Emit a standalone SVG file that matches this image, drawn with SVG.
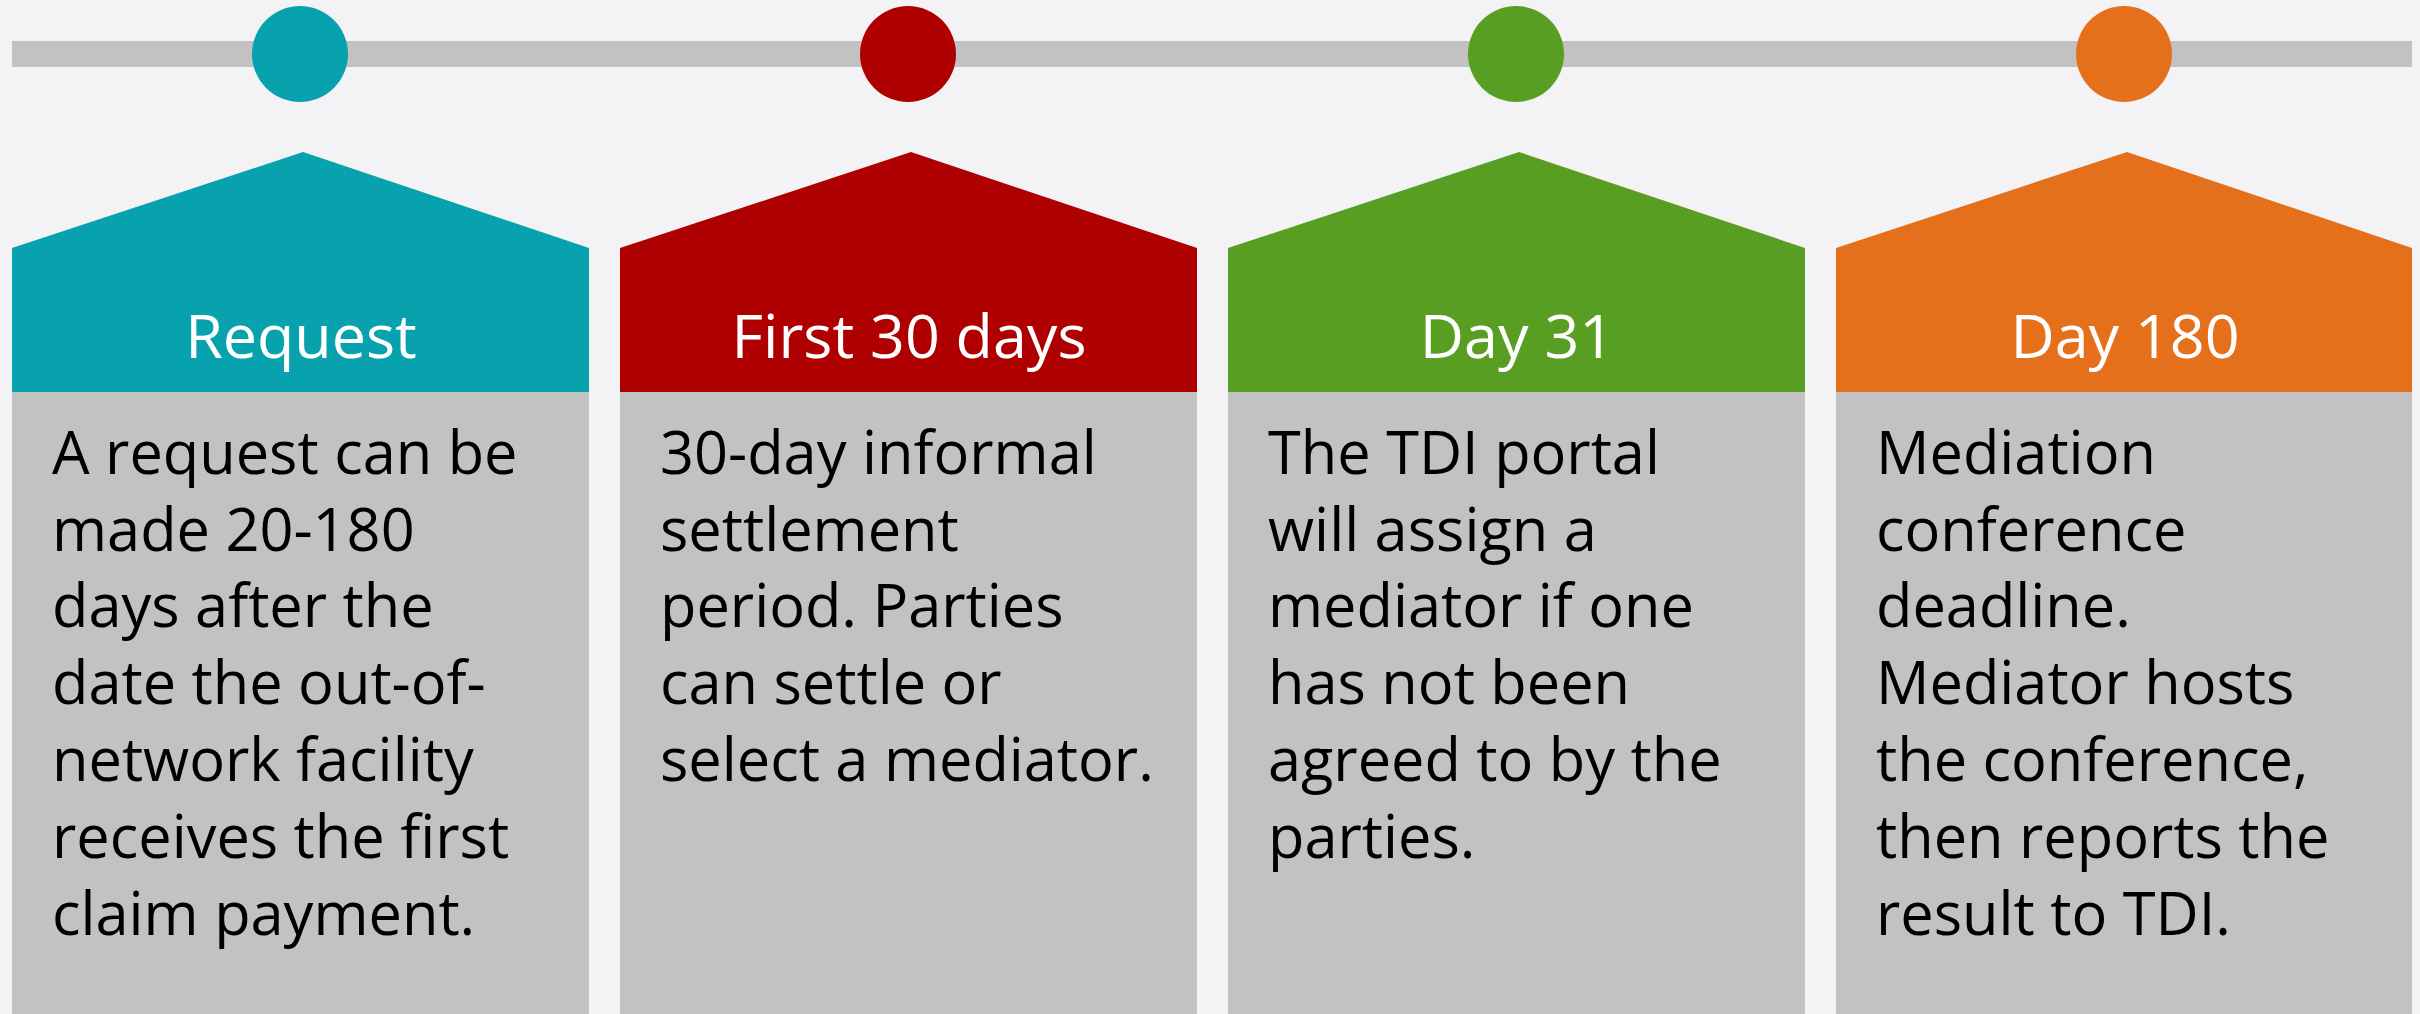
<svg xmlns="http://www.w3.org/2000/svg" width="2420" height="1014" viewBox="0 0 2420 1014">
<style>
.hd{font-family:"Open Sans","Noto Sans",sans-serif;font-size:61px;font-weight:400;fill:#ffffff;text-anchor:middle}
.bd{font-family:"Open Sans","Noto Sans",sans-serif;font-size:59.5px;fill:#000000}
.body{fill:#c2c2c2}
.dot{stroke:none}
</style>
<rect x="0" y="0" width="2420" height="1014" fill="#f3f3f5"/>
<g id="connectors">
<rect x="12" y="41" width="2400" height="26" fill="#c2c2c2"/>
</g>
<g id="step-request">
<circle class="dot" cx="300" cy="54" r="48" fill="#07a2ae"/>
<polygon points="12,248 303,152 589,248 589,392 12,392" fill="#07a2ae"/>
<rect class="body" x="12" y="392" width="577" height="622"/>
<text class="hd" x="301" y="358">Request</text>
<text class="bd" x="52" y="474">A request can be</text>
<text class="bd" x="52" y="551">made 20-180</text>
<text class="bd" x="52" y="627">days after the</text>
<text class="bd" x="52" y="704">date the out-of-</text>
<text class="bd" x="52" y="781">network facility</text>
<text class="bd" x="52" y="858">receives the first</text>
<text class="bd" x="52" y="935">claim payment.</text>
</g>
<g id="step-first30">
<circle class="dot" cx="908" cy="54" r="48" fill="#ae0000"/>
<polygon points="620,248 911,152 1197,248 1197,392 620,392" fill="#ae0000"/>
<rect class="body" x="620" y="392" width="577" height="622"/>
<text class="hd" x="909" y="358">First 30 days</text>
<text class="bd" x="660" y="474">30-day informal</text>
<text class="bd" x="660" y="551">settlement</text>
<text class="bd" x="660" y="627">period. Parties</text>
<text class="bd" x="660" y="704">can settle or</text>
<text class="bd" x="660" y="781">select a mediator.</text>
</g>
<g id="step-day31">
<circle class="dot" cx="1516" cy="54" r="48" fill="#589e22"/>
<polygon points="1228,248 1519,152 1805,248 1805,392 1228,392" fill="#589e22"/>
<rect class="body" x="1228" y="392" width="577" height="622"/>
<text class="hd" x="1517" y="358">Day 31</text>
<text class="bd" x="1268" y="474">The TDI portal</text>
<text class="bd" x="1268" y="551">will assign a</text>
<text class="bd" x="1268" y="627">mediator if one</text>
<text class="bd" x="1268" y="704">has not been</text>
<text class="bd" x="1268" y="781">agreed to by the</text>
<text class="bd" x="1268" y="858">parties.</text>
</g>
<g id="step-day180">
<circle class="dot" cx="2124" cy="54" r="48" fill="#e5701b"/>
<polygon points="1836,248 2127,152 2412,248 2412,392 1836,392" fill="#e5701b"/>
<rect class="body" x="1836" y="392" width="576" height="622"/>
<text class="hd" x="2125" y="358">Day 180</text>
<text class="bd" x="1876" y="474">Mediation</text>
<text class="bd" x="1876" y="551">conference</text>
<text class="bd" x="1876" y="627">deadline.</text>
<text class="bd" x="1876" y="704">Mediator hosts</text>
<text class="bd" x="1876" y="781">the conference,</text>
<text class="bd" x="1876" y="858">then reports the</text>
<text class="bd" x="1876" y="935">result to TDI.</text>
</g>
</svg>
